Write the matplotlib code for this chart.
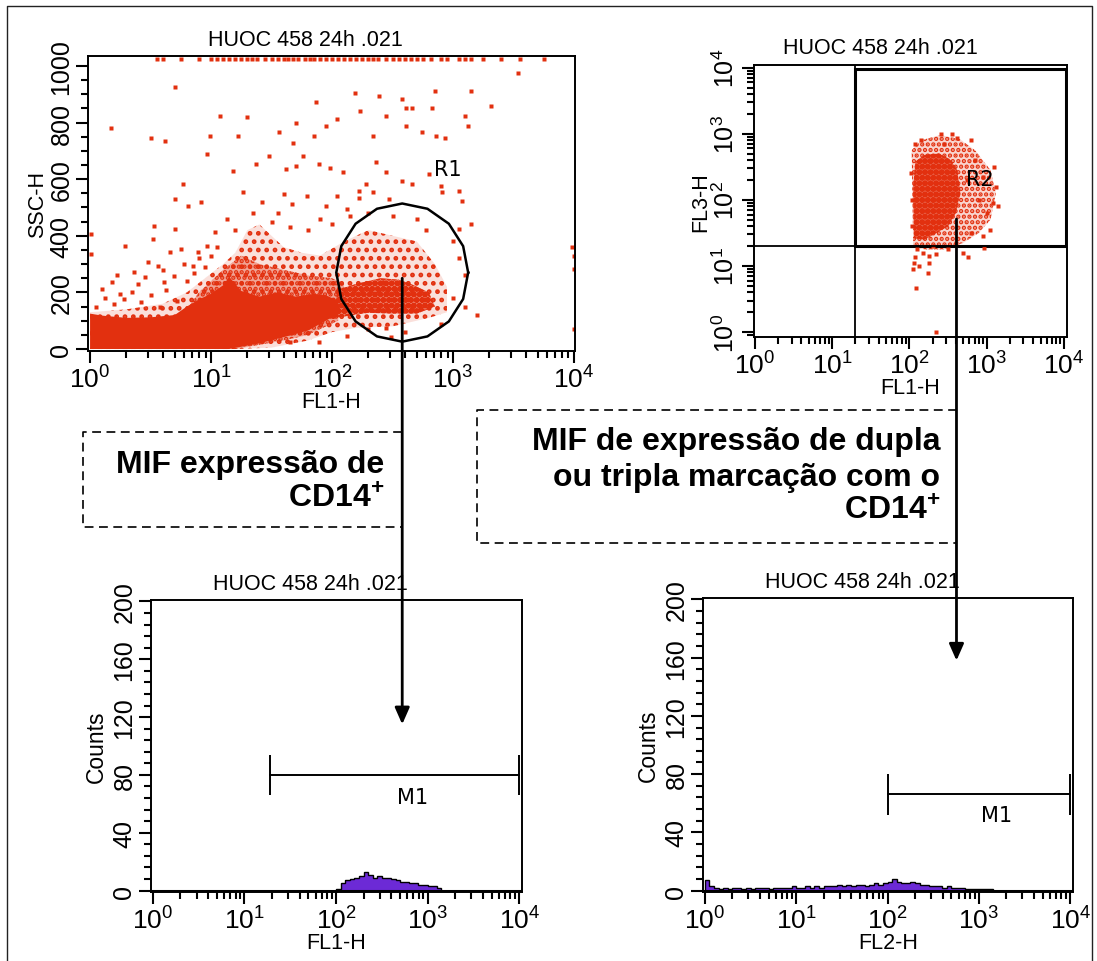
import numpy as np
import matplotlib
matplotlib.use("Agg")
import matplotlib.pyplot as plt
from matplotlib.lines import Line2D
from matplotlib.patches import Polygon, Rectangle, ConnectionPatch
from matplotlib.ticker import LogLocator, MultipleLocator, NullFormatter

plt.rcParams.update({
    "font.family": ["Liberation Sans", "DejaVu Sans"],
    "mathtext.fontset": "custom",
    "mathtext.rm": "Liberation Sans",
    "mathtext.bf": "Liberation Sans:bold",
    "font.size": 15.5,
    "axes.linewidth": 1.4,
    "xtick.major.size": 8.5, "ytick.major.size": 8.5,
    "xtick.minor.size": 5, "ytick.minor.size": 5,
    "xtick.major.width": 1.5, "ytick.major.width": 1.5,
    "xtick.minor.width": 1.5, "ytick.minor.width": 1.5,
    "xtick.labelsize": 19, "ytick.labelsize": 18,
    "hatch.linewidth": 2.2,
})

W, H = 1097, 962
RED = "#e2300f"
PURPLE = "#6c2ad6"
TITLE = "HUOC 458 24h .021"

# ---------------------------------------------------------------- data
# FL1-H vs SSC-H dot plot (FL1 stored as log10)
core_fl1 = [0.0, 0.0, 0.1, 0.3, 0.5, 0.7, 0.8, 0.9, 1.0, 1.1, 1.15, 1.25, 1.4, 1.55,
            1.7, 1.85, 1.95, 2.05, 2.05, 1.95, 1.8, 1.6, 1.4, 1.2, 1.15]
core_ssc = [0, 125, 118, 110, 112, 120, 150, 175, 195, 225, 255, 205, 185, 200,
            185, 195, 190, 170, 125, 100, 65, 42, 20, 4, 0]
mid_fl1 = [0.75, 0.9, 1.1, 1.25, 1.4, 1.6, 1.8, 2.0, 2.1, 2.05, 1.8, 1.6, 1.2]
mid_ssc = [110, 200, 280, 330, 300, 280, 260, 250, 230, 100, 50, 30, 0]
blob_fl1 = [2.0, 2.05, 2.2, 2.4, 2.55, 2.65, 2.8, 2.85, 2.7, 2.5, 2.3, 2.1]
blob_ssc = [110, 210, 230, 250, 245, 230, 200, 150, 125, 125, 128, 115]
halo_fl1 = [0.0, 0.3, 0.6, 0.8, 0.95, 1.1, 1.2, 1.3, 1.4, 1.5, 1.6, 1.75, 1.9, 2.1,
            2.3, 2.5, 2.7, 2.85, 2.95, 2.95, 2.8, 2.5, 2.2, 2.0, 1.8, 1.5, 1.2, 0.0]
halo_ssc = [130, 140, 160, 200, 250, 300, 340, 420, 440, 400, 360, 340, 330, 380,
            420, 400, 380, 300, 220, 130, 110, 80, 75, 60, 30, 5, 0, 0]
dots_fl1 = [0.70, 0.17, 0.50, 0.62, 1.07, 0.99, 1.22, 1.30, 1.56, 1.70, 1.68, 1.85,
            1.87, 1.95, 2.04, 2.19, 2.23, 2.39, 2.45, 2.58, 2.61, 2.66, 2.83, 2.85,
            2.74, 2.86, 2.93, 3.10, 3.12, 3.15, 3.31, 3.54, 2.61, 2.34, 0.97, 1.18,
            1.37, 1.48, 1.62, 1.70, 1.76, 1.89, 1.98, 2.09, 2.22, 2.28, 2.36, 2.45,
            2.58, 2.66, 2.80, 2.90, 3.05, 3.07, 0.77, 0.70, 0.81, 0.92, 1.26, 1.60,
            1.67, 1.79, 1.95, 2.04, 2.12, 2.22, 2.34, 2.47, 2.91, 3.15, 3.05, 0.29,
            0.53, 0.52, 0.70, 0.75, 0.66, 0.18, 0.10, 0.25, 0.36, 0.45, 0.48, 0.56,
            0.61, 0.69, 0.01, 0.01, 1.03, 1.13, 0.97, 0.89, 0.85, 4.0, 4.0, 4.0,
            3.98, 2.45, 2.49, 2.12, 1.89, 1.65,
            0.05, 0.12, 0.20, 0.28, 0.35, 0.42, 0.50, 0.58, 0.63, 0.72, 0.80, 0.86,
            0.90, 0.95, 1.00, 1.05, 0.78, 0.40, 0.22, 0.60,
            1.50, 1.55, 1.42, 1.35, 1.20, 1.65, 1.80, 1.90, 2.00, 2.15, 2.30, 2.50,
            2.70, 2.78, 3.00, 3.05, 3.10, 3.00, 3.10, 3.20, 2.90, 2.60, 2.30]
dots_ssc = [924, 782, 747, 735, 824, 753, 753, 818, 765, 800, 729, 753,
            871, 788, 812, 906, 841, 894, 824, 882, 853, 853, 853, 912,
            765, 753, 747, 824, 788, 912, 859, 976, 788, 753, 688, 629,
            653, 682, 635, 647, 682, 653, 641, 624, 559, 582, 659, 624,
            594, 582, 618, 576, 559, 524, 582, 529, 506, 518, 553, 547,
            512, 541, 506, 541, 494, 535, 553, 529, 553, 441, 424, 365,
            435, 388, 424, 353, 341, 235, 212, 194, 271, 253, 306, 294,
            235, 259, 406, 335, 412, 459, 365, 341, 294, 329, 282, 71,
            359, 76, 41, 47, 24, 24,
            150, 180, 160, 175, 200, 165, 190, 150, 210, 170, 240, 270,
            320, 290, 330, 360, 300, 230, 260, 280,
            450, 480, 520, 480, 420, 430, 420, 460, 440, 470, 480, 470,
            460, 420, 380, 320, 260, 180, 150, 120, 90, 60, 70]
# events piled up at the top of the SSC scale
top_fl1 = [0.55, 0.6, 0.75, 0.9, 1.0, 1.05, 1.1, 1.15, 1.2, 1.25, 1.3, 1.34, 1.38,
           1.45, 1.5, 1.55, 1.6, 1.64, 1.68, 1.72, 1.78, 1.82, 1.85, 1.9, 1.95, 2.0,
           2.05, 2.1, 2.15, 2.2, 2.25, 2.3, 2.34, 2.38, 2.45, 2.5, 2.55, 2.6, 2.65,
           2.7, 2.75, 2.82, 2.9, 2.95, 3.05, 3.1, 3.15, 3.25, 3.4, 3.55, 3.75]
SSC_MAX = 1023

# R1 gate: centre (log10 FL1, SSC) and half-widths
r1_centre = (2.58, 270)
r1_half = (0.545, 244)

# FL1-H vs FL3-H dot plot (both log10)
r2_core_fl1 = [2.06, 2.05, 2.08, 2.2, 2.38, 2.52, 2.62, 2.66, 2.6, 2.5, 2.35, 2.2]
r2_core_fl3 = [1.42, 2.2, 2.58, 2.68, 2.7, 2.62, 2.45, 2.1, 1.8, 1.6, 1.5, 1.4]
r2_halo_fl1 = [2.05, 2.03, 2.15, 2.4, 2.65, 2.85, 3.05, 3.12, 3.05, 2.9, 2.7, 2.45, 2.2]
r2_halo_fl3 = [1.3, 2.75, 2.9, 2.98, 2.92, 2.75, 2.45, 2.1, 1.7, 1.5, 1.35, 1.25, 1.25]
r2_dots_fl1 = [2.09, 2.24, 2.34, 2.76, 2.97, 2.07, 2.26, 2.41, 2.62, 3.12, 3.05, 3.0,
               2.07, 2.15, 2.55, 2.85, 2.95, 3.08, 2.95, 2.1, 2.18, 2.06, 2.3, 2.5,
               2.6, 2.8, 2.9, 2.75, 2.8, 2.45, 2.04, 2.03, 2.02, 3.15, 3.1, 2.7,
               2.25, 2.35, 2.05, 2.12]
r2_dots_fl3 = [0.67, 0.90, 0.0, 1.13, 1.27, 1.13, 1.15, 2.99, 2.94, 2.2, 1.55, 1.8,
               2.85, 2.9, 3.0, 2.6, 2.35, 1.95, 1.45, 1.25, 1.2, 1.05, 1.3, 1.25,
               1.35, 1.5, 2.0, 2.3, 2.9, 2.85, 1.6, 2.0, 2.4, 1.9, 2.5, 1.2,
               1.05, 1.18, 0.95, 1.0]
quad_cut = 20          # FL1 / FL3 quadrant marker
r2_upper = (10 ** 4.03, 10 ** 3.98)

# histograms (log10 bin starts, width 0.05)
fl1_bin0, fl1_counts = 2.0, [1, 5, 7, 8, 9, 10, 13, 11, 9, 10, 9, 9, 8, 7, 6, 6, 5, 5,
                             4, 4, 3, 3, 2]
fl2_bin0, fl2_counts = 0.0, [7, 3, 2, 1, 2, 1, 2, 2, 1, 2, 1, 2, 2, 2, 1, 2, 2, 2, 2, 3,
                             2, 2, 3, 2, 3, 2, 3, 3, 3, 4, 3, 4, 3, 4, 4, 3, 4, 5, 4, 5,
                             6, 8, 6, 5, 5, 6, 5, 4, 4, 3, 3, 3, 2, 3, 2, 2, 2, 1, 1, 1,
                             1, 1, 1]
BIN_W = 0.05
m1_fl1 = (19, 10 ** 4.0)    # M1 marker range and height
m1_fl1_y = 80
m1_fl2 = (100, 10 ** 4.0)
m1_fl2_y = 66


def px(x, y):
    return x / W, 1 - y / H


def ax_at(fig, l, t, r, b):
    return fig.add_axes([l / W, 1 - b / H, (r - l) / W, (b - t) / H])


def log_axis(axis):
    axis.set_major_locator(LogLocator(base=10, numticks=10))
    axis.set_minor_locator(LogLocator(base=10, subs=np.arange(2, 10), numticks=20))
    axis.set_minor_formatter(NullFormatter())


def style(ax):
    ax.tick_params(which="both", direction="out", top=False, right=False)
    ax.tick_params(axis="x", pad=2)
    ax.tick_params(axis="y", labelrotation=90, pad=2)
    for t in ax.get_yticklabels():
        t.set_va("center")


def pow10(v):
    return np.power(10.0, np.asarray(v, dtype=float))


def speckle(ax, xs, ys, hatch, alpha=0.0):
    """Dense event cloud: light wash plus a dotted texture."""
    pts = np.column_stack([xs, ys])
    if alpha:
        ax.add_patch(Polygon(pts, closed=True, fc=RED, ec="none", alpha=alpha))
    ax.add_patch(Polygon(pts, closed=True, fill=False, ec=RED, lw=0, hatch=hatch))


fig = plt.figure(figsize=(W / 100, H / 100), dpi=100)

# ---------------------------------------------------------------- FL1 vs SSC
ax1 = ax_at(fig, 88, 57, 575, 352)
ax1.set_xscale("log")
ax1.set_xlim(10 ** -0.017, 10 ** 4.008)
ax1.set_ylim(-7, 1035)
log_axis(ax1.xaxis)
ax1.yaxis.set_major_locator(MultipleLocator(200))
ax1.yaxis.set_minor_locator(MultipleLocator(50))
speckle(ax1, pow10(halo_fl1), halo_ssc, "..", alpha=0.15)
speckle(ax1, pow10(mid_fl1), mid_ssc, "...", alpha=0.35)
ax1.add_patch(Polygon(np.column_stack([pow10(core_fl1), core_ssc]), closed=True,
                      fc=RED, ec="none"))
speckle(ax1, pow10(blob_fl1), blob_ssc, "ooo", alpha=0.6)
ax1.plot(pow10(dots_fl1), dots_ssc, "s", ms=2.3, color=RED, mec="none")
ax1.plot(pow10(top_fl1), np.full(len(top_fl1), SSC_MAX), "s", ms=2.5, color=RED,
         mec="none", clip_on=False)
ang = np.linspace(0, 2 * np.pi, 17)
gx = r1_centre[0] + r1_half[0] * np.cos(ang)
gy = r1_centre[1] + r1_half[1] * np.sin(ang)
ax1.plot(pow10(gx), gy, color="k", lw=1.8)
ax1.text(10 ** 2.96, 635, "R1", fontsize=15, family="DejaVu Sans", ha="center", va="center")
ax1.set_xlabel("FL1-H", labelpad=-1)
ax1.set_ylabel("SSC-H", labelpad=1)
style(ax1)

# ---------------------------------------------------------------- FL1 vs FL3
ax2 = ax_at(fig, 754, 66, 1067, 338)
ax2.set_xscale("log")
ax2.set_yscale("log")
ax2.set_xlim(10 ** -0.01, 10 ** 4.04)
ax2.set_ylim(10 ** -0.075, 10 ** 4.04)
log_axis(ax2.xaxis)
log_axis(ax2.yaxis)
speckle(ax2, pow10(r2_halo_fl1), pow10(r2_halo_fl3), "...", alpha=0.2)
speckle(ax2, pow10(r2_core_fl1), pow10(r2_core_fl3), "ooo", alpha=0.75)
ax2.plot(pow10(r2_dots_fl1), pow10(r2_dots_fl3), "s", ms=2.3, color=RED, mec="none")
ax2.axvline(quad_cut, color="k", lw=1.3)
ax2.axhline(quad_cut, color="k", lw=1.3)
ax2.add_patch(Rectangle((quad_cut, quad_cut), r2_upper[0] - quad_cut,
                        r2_upper[1] - quad_cut, fill=False, ec="k", lw=2.2))
ax2.text(10 ** 2.91, 10 ** 2.31, "R2", fontsize=15, family="DejaVu Sans",
         ha="center", va="center")
ax2.set_xlabel("FL1-H", labelpad=-1)
ax2.set_ylabel("FL3-H", labelpad=1)
style(ax2)


# ---------------------------------------------------------------- histograms
def histogram(ax, bin0, counts, m1, m1_y, m1_label_xy, xlabel):
    ax.set_xscale("log")
    ax.set_xlim(10 ** -0.02, 10 ** 4.03)
    ax.set_ylim(-1, 201)
    log_axis(ax.xaxis)
    ax.yaxis.set_major_locator(MultipleLocator(40))
    ax.yaxis.set_minor_locator(MultipleLocator(8))
    edges = pow10(bin0 + BIN_W * np.arange(len(counts) + 1))
    ax.stairs(counts, edges, fill=True, color=PURPLE)
    ax.stairs(counts, edges, color="k", lw=1.0)
    ax.axhline(0, color="k", lw=2.2)
    ax.plot(m1, [m1_y, m1_y], color="k", lw=1.4)
    ax.vlines(m1, m1_y - 14, m1_y + 14, color="k", lw=1.4, clip_on=False)
    ax.text(m1_label_xy[0], m1_label_xy[1], "M1", fontsize=15, family="DejaVu Sans",
            ha="center", va="center")
    ax.set_xlabel(xlabel, labelpad=-1)
    ax.set_ylabel("Counts", labelpad=3, fontsize=16.5)
    style(ax)


ax3 = ax_at(fig, 151, 601, 522, 893)
histogram(ax3, fl1_bin0, fl1_counts, m1_fl1, m1_fl1_y, (10 ** 2.84, 65), "FL1-H")
ax4 = ax_at(fig, 703, 599, 1073, 893)
histogram(ax4, fl2_bin0, fl2_counts, m1_fl2, m1_fl2_y, (10 ** 3.19, 52), "FL2-H")

for x, y in [(305, 40), (880, 49), (310, 585), (862, 583)]:
    fig.text(*px(x, y), TITLE, ha="center", va="center", fontsize=15.5)


# ---------------------------------------------------------------- arrows
def arrow(ax_from, xy_from, ax_to, y_to):
    xd = ax_from.transData.transform(xy_from)[0]
    yd = ax_to.transData.transform((1, y_to))[1]
    x_to = ax_to.transData.inverted().transform((xd, yd))[0]
    con = ConnectionPatch(xy_from, (x_to, y_to), coordsA=ax_from.transData,
                          coordsB=ax_to.transData,
                          arrowstyle="-|>,head_length=0.5,head_width=0.22",
                          mutation_scale=20, lw=2.0, color="k", shrinkA=0, shrinkB=0)
    fig.add_artist(con)


arrow(ax1, (10 ** 2.58, 250), ax3, 115)
arrow(ax2, (10 ** 2.61, 10 ** 1.71), ax4, 158)

# ---------------------------------------------------------------- dashed boxes
dash = (0, (5.3, 3.3))
for l, t, r, b in [(83, 433, 402, 528), (477, 411, 957, 544)]:
    xs = [r, l, l, r]
    ys = [t, t, b, b]
    fx, fy = zip(*[px(x, y) for x, y in zip(xs, ys)])
    fig.add_artist(Line2D(fx, fy, transform=fig.transFigure, color="k", lw=1.2,
                          linestyle=dash))

bold = dict(ha="right", va="baseline", fontsize=23, fontweight="bold")
fig.text(*px(384, 473), "MIF expressão de", **bold)
fig.text(*px(384, 508), r"CD14$^{\mathbf{+}}$", **bold)
fig.text(*px(940, 450), "MIF de expressão de dupla", **bold)
fig.text(*px(940, 486), "ou tripla marcação com o", **bold)
fig.text(*px(940, 520), r"CD14$^{\mathbf{+}}$", **bold)

# outer frame
fx, fy = zip(*[px(x, y) for x, y in [(7, 961), (7, 7), (1092, 7), (1092, 961)]])
fig.add_artist(Line2D(fx, fy, transform=fig.transFigure, color="#222222", lw=1.0))

fig.savefig("out.png", dpi=100)
